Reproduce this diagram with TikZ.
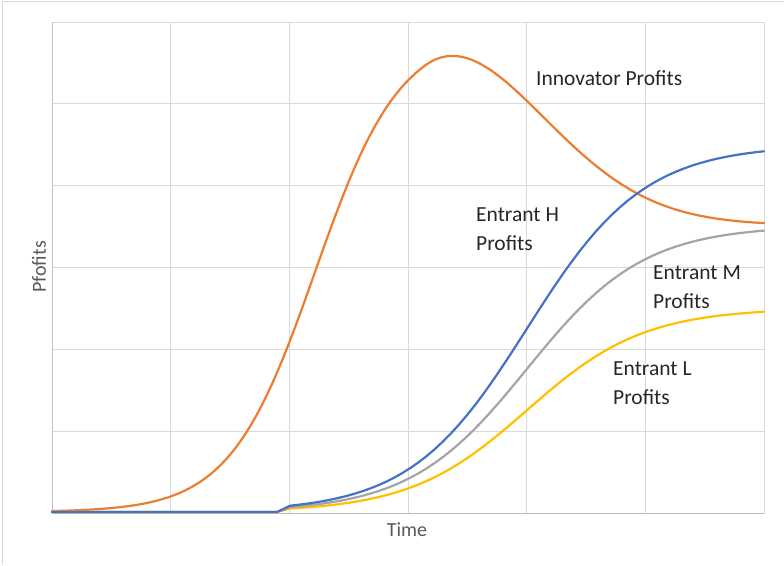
\documentclass[tikz,border=0pt]{standalone}
\usepackage{fontspec}
\setmainfont{Carlito}
\usepackage{xcolor}
\usetikzlibrary{positioning}
\definecolor{gridgray}{HTML}{D9D9D9}
\definecolor{axisgray}{HTML}{BFBFBF}
\definecolor{textgray}{HTML}{595959}
\definecolor{innovorange}{HTML}{ED7D31}
\definecolor{entblue}{HTML}{4472C4}
\definecolor{entgray}{HTML}{A5A5A5}
\definecolor{entyellow}{HTML}{FFC000}

\begin{document}
\begin{tikzpicture}[x=1pt, y=-1pt,
    declare function={entr(\x,\k)=512-\k*367/(1+exp(-(\x-527)/58.5));
                      innov(\x)=512-480/(1+exp(-(\x-315)/42.5))+193*(1-exp(-(max(\x-425,0)/158)*(max(\x-425,0)/158)));},
    curve/.style={line width=2.2pt, line join=round, line cap=round},
    curvelabel/.style={anchor=north west, inner sep=0pt, align=left, text=black!85, font=\fontsize{21.5}{29}\selectfont},
    axislabel/.style={inner sep=0pt, text=textgray, font=\fontsize{20}{22}\selectfont}]
    \useasboundingbox (0,0) rectangle (784,565);
    % chart border
    \draw[gridgray, line width=1pt] (2,565) -- (2,1.5) -- (784,1.5);
    % grid
    \foreach \i in {1,...,6}
        \draw[gridgray, line width=1pt] ({52+118.67*\i},22) -- ({52+118.67*\i},513);
    \foreach \j in {0,...,5}
        \draw[gridgray, line width=1pt] (52,{22+81.83*\j}) -- (764,{22+81.83*\j});
    \draw[axisgray, line width=1pt] (52,22) -- (52,513) -- (764,513);

    % curves
    \draw[curve, innovorange] plot[domain=52:764, samples=140] (\x, {innov(\x)});
    \draw[curve, entyellow] (52,512) -- (277,512) -- plot[domain=290:764, samples=60] (\x, {entr(\x,0.555)});
    \draw[curve, entgray] (52,512) -- (277,512) -- plot[domain=290:764, samples=60] (\x, {entr(\x,0.78)});
    \draw[curve, entblue] (52,512) -- (277,512) -- plot[domain=290:764, samples=60] (\x, {entr(\x,1)});

    % labels
    \node[curvelabel] (innov) at (536,70) {Innovator Profits};
    \node[curvelabel] (enth) at (476,207.5) {Entrant H\\Profits};
    \node[curvelabel] (entm) at (653,265.5) {Entrant M\\Profits};
    \node[curvelabel] (entl) at (613,361.5) {Entrant L\\Profits};
    \node[axislabel] (time) at (407,530) {Time};
    \node[axislabel, rotate=90] (pfofits) at (39,267) {Pfofits};
\end{tikzpicture}
\end{document}
